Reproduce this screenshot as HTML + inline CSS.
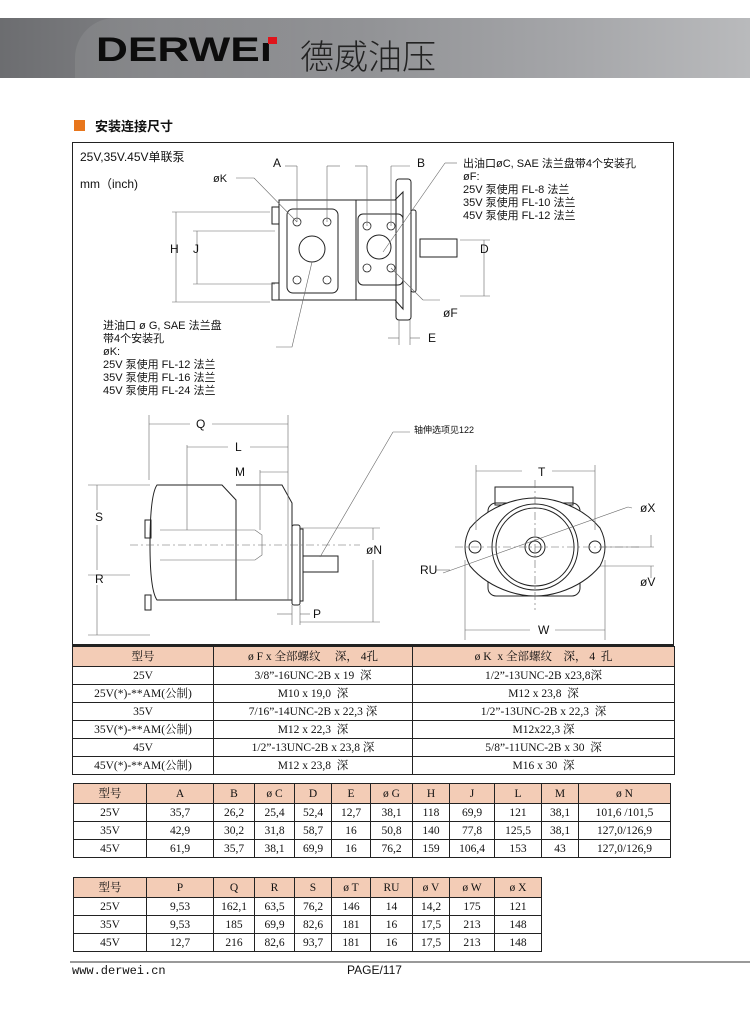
<!DOCTYPE html>
<html><head><meta charset="utf-8">
<style>
*{margin:0;padding:0;box-sizing:border-box}
body{width:750px;height:1018px;background:#fff;position:relative;overflow:hidden;font-family:"Liberation Sans","Noto Sans CJK SC",sans-serif;color:#111}
.abs{position:absolute}
table{border-collapse:collapse;position:absolute;font-family:"Liberation Serif","Noto Serif CJK SC",serif;font-size:11.5px;table-layout:fixed}
td{border:1px solid #222;text-align:center;height:18px;padding:0;white-space:nowrap;overflow:hidden;line-height:16px}
tr.h td{background:#f3ccb6;height:20px}
</style></head><body>
<div class="abs" style="left:0;top:18px;width:750px;height:60px;background:linear-gradient(90deg,#6c6d70 0%,#808184 20%,#8f9093 45%,#a4a5a8 75%,#b9babc 100%)"></div>
<div class="abs" style="left:75px;top:18px;width:300px;height:60px;border-radius:40px 0 0 0;background:linear-gradient(90deg,rgba(255,255,255,0.08),rgba(255,255,255,0))"></div>
<div class="abs" style="left:96px;top:30px;font:bold 34px 'Liberation Sans',sans-serif;color:#0c0c0c;transform:scaleX(1.3);transform-origin:left;line-height:40px">DERWE<span style="color:#0c0c0c">ı</span></div>
<div class="abs" style="left:268px;top:37px;width:9px;height:7px;background:#e0141b"></div>
<div class="abs" style="left:300px;top:30px;font:34px 'Noto Sans CJK SC',sans-serif;color:#222;font-weight:300">德威油压</div>
<div class="abs" style="left:74px;top:120px;width:11px;height:11px;background:#e8761c"></div>
<div class="abs" style="left:95px;top:116px;font:bold 13px 'Noto Sans CJK SC',sans-serif">安装连接尺寸</div>
<div class="abs" style="left:72px;top:142px;width:602px;height:505px;border:1px solid #222;border-bottom:3px solid #222"></div>

<svg class="abs" style="left:0;top:0" width="750" height="1018" viewBox="0 0 750 1018" font-family="Liberation Sans,Noto Sans CJK SC,sans-serif" font-size="11">
<g fill="none" stroke="#222" stroke-width="1">
<path d="M279 200 H395 L403 192 V309 L395 300 H279 Z"/>
<rect x="272" y="207" width="7" height="17"/><rect x="272" y="283" width="7" height="17"/>
<rect x="396" y="179" width="15" height="141" rx="3"/>
<rect x="411" y="210" width="5" height="82" rx="2"/>
<rect x="420" y="239" width="37" height="18"/>
<rect x="287" y="209" width="51" height="84" rx="6"/>
<circle cx="312" cy="249" r="13"/>
<rect x="358" y="214" width="45" height="71" rx="5"/>
<circle cx="379" cy="247" r="12"/>
<line x1="356" y1="200" x2="356" y2="300"/>
<g stroke-width="0.8"><circle cx="297" cy="222" r="4"/><circle cx="327" cy="222" r="4"/><circle cx="297" cy="280" r="4"/><circle cx="327" cy="280" r="4"/>
<circle cx="367" cy="226" r="4"/><circle cx="391" cy="226" r="4"/><circle cx="367" cy="268" r="4"/><circle cx="391" cy="268" r="4"/></g>
<g stroke="#666" stroke-width="0.6">
<line x1="297" y1="166" x2="297" y2="222"/><line x1="327" y1="166" x2="327" y2="222"/>
<line x1="367" y1="166" x2="367" y2="226"/><line x1="391" y1="166" x2="391" y2="226"/>
<line x1="285" y1="166" x2="297" y2="166"/><line x1="327" y1="166" x2="340" y2="166"/>
<line x1="355" y1="166" x2="367" y2="166"/><line x1="391" y1="166" x2="410" y2="166"/>
<line x1="172" y1="212" x2="270" y2="212"/><line x1="172" y1="302" x2="270" y2="302"/>
<line x1="176" y1="212" x2="176" y2="302"/>
<line x1="193" y1="231" x2="275" y2="231"/><line x1="193" y1="284" x2="275" y2="284"/>
<line x1="197" y1="231" x2="197" y2="284"/>
<line x1="460" y1="240" x2="490" y2="240"/><line x1="460" y1="296" x2="490" y2="296"/>
<line x1="484" y1="240" x2="484" y2="296"/>
<line x1="399" y1="320" x2="399" y2="345"/><line x1="410" y1="320" x2="410" y2="345"/>
<line x1="388" y1="338" x2="399" y2="338"/><line x1="410" y1="338" x2="420" y2="338"/>
<line x1="236" y1="178" x2="254" y2="178"/><line x1="254" y1="178" x2="297" y2="222"/>
<line x1="445" y1="163" x2="457" y2="163"/><line x1="445" y1="163" x2="383" y2="252"/>
<line x1="391" y1="268" x2="423" y2="300"/><line x1="423" y1="300" x2="440" y2="300"/>
<path d="M312 262 L292 347 L276 347"/>
</g>
<path d="M157 485 H222 L236 500 V600 H157 Q150 590 150 545 Q150 495 157 485 Z"/>
<path d="M236 500 V600 M236 485 H282 L292 503 V600 H236"/>
<rect x="145" y="520" width="6" height="18"/><rect x="145" y="595" width="6" height="15"/>
<rect x="292" y="525" width="8" height="80" rx="2"/>
<rect x="300" y="529" width="3" height="72"/>
<rect x="303" y="556" width="35" height="16"/>
<g stroke="#666" stroke-width="0.6">
<path d="M160 530 H255 L262 535 V555 L255 560 H160"/>
<line x1="130" y1="545" x2="360" y2="545" stroke-dasharray="8 3 2 3"/>
<line x1="149" y1="415" x2="149" y2="480"/><line x1="288" y1="415" x2="288" y2="600"/>
<line x1="149" y1="424" x2="190" y2="424"/><line x1="212" y1="424" x2="288" y2="424"/>
<line x1="187" y1="447" x2="228" y2="447"/><line x1="250" y1="447" x2="288" y2="447"/>
<line x1="187" y1="445" x2="187" y2="530"/>
<line x1="260" y1="472" x2="288" y2="472"/><line x1="260" y1="470" x2="260" y2="530"/>
<line x1="88" y1="485" x2="150" y2="485"/><line x1="88" y1="575" x2="130" y2="575"/><line x1="88" y1="635" x2="150" y2="635"/>
<line x1="97" y1="485" x2="97" y2="510"/><line x1="97" y1="525" x2="97" y2="570"/><line x1="97" y1="585" x2="97" y2="635"/>
<line x1="300" y1="528" x2="380" y2="528"/><line x1="300" y1="622" x2="380" y2="622"/>
<line x1="373" y1="528" x2="373" y2="540"/><line x1="373" y1="560" x2="373" y2="622"/>
<line x1="292" y1="605" x2="292" y2="625"/><line x1="300" y1="605" x2="300" y2="625"/>
<line x1="277" y1="614" x2="292" y2="614"/><line x1="300" y1="614" x2="310" y2="614"/>
<line x1="320" y1="557" x2="393" y2="432"/><line x1="393" y1="432" x2="410" y2="432"/>
</g>
<rect x="495" y="487" width="78" height="18"/>
<rect x="488" y="503" width="92" height="93" rx="8"/>
<path d="M470 528 Q460 547 470 566 Q485 584 510 592 Q535 600 560 592 Q585 584 600 566 Q610 547 600 528 Q585 510 560 502 Q535 494 510 502 Q485 510 470 528 Z" fill="#fff"/>
<circle cx="535" cy="547" r="43"/><circle cx="535" cy="547" r="39"/>
<circle cx="535" cy="547" r="10"/><circle cx="535" cy="547" r="6"/>
<circle cx="475" cy="547" r="6"/><circle cx="595" cy="547" r="6"/>
<g stroke="#666" stroke-width="0.6">
<line x1="455" y1="547" x2="640" y2="547" stroke-dasharray="8 3 2 3"/>
<line x1="535" y1="480" x2="535" y2="610" stroke-dasharray="8 3 2 3"/>
<line x1="476" y1="465" x2="476" y2="530"/><line x1="595" y1="465" x2="595" y2="530"/>
<line x1="476" y1="471" x2="522" y2="471"/><line x1="552" y1="471" x2="595" y2="471"/>
<line x1="465" y1="560" x2="465" y2="640"/><line x1="605" y1="560" x2="605" y2="640"/>
<line x1="465" y1="630" x2="530" y2="630"/><line x1="555" y1="630" x2="605" y2="630"/>
<line x1="443" y1="573" x2="628" y2="507"/><line x1="628" y1="507" x2="632" y2="508"/>
<line x1="600" y1="547" x2="654" y2="547"/><line x1="600" y1="566" x2="654" y2="566"/>
<line x1="651" y1="535" x2="651" y2="547"/><line x1="651" y1="566" x2="651" y2="578"/>
<line x1="436" y1="570" x2="450" y2="570"/>
</g>
</g>
<g fill="#111" stroke="none">
<text x="80" y="161" font-size="12">25V,35V.45V单联泵</text>
<text x="80" y="188" font-size="12">mm（inch)</text>
<text x="273" y="167" font-size="12">A</text><text x="417" y="167" font-size="12">B</text>
<text x="213" y="182">øK</text>
<text x="463" y="167">出油口øC, SAE 法兰盘带4个安装孔</text>
<text x="463" y="180">øF:</text>
<text x="463" y="193">25V 泵使用 FL-8  法兰</text>
<text x="463" y="206">35V 泵使用  FL-10 法兰</text>
<text x="463" y="219">45V 泵使用  FL-12 法兰</text>
<text x="170" y="253" font-size="12">H</text><text x="193" y="253" font-size="12">J</text><text x="480" y="253" font-size="12">D</text>
<text x="443" y="317" font-size="12">øF</text><text x="428" y="342" font-size="12">E</text>
<text x="103" y="329">进油口 ø G, SAE 法兰盘</text>
<text x="103" y="342">带4个安装孔</text>
<text x="103" y="355">øK:</text>
<text x="103" y="368">25V 泵使用  FL-12 法兰</text>
<text x="103" y="381">35V 泵使用  FL-16 法兰</text>
<text x="103" y="394">45V 泵使用  FL-24 法兰</text>
<text x="196" y="428" font-size="12">Q</text><text x="235" y="451" font-size="12">L</text><text x="235" y="476" font-size="12">M</text>
<text x="414" y="433" font-size="9">轴伸选项见122</text>
<text x="95" y="521" font-size="12">S</text><text x="95" y="583" font-size="12">R</text>
<text x="366" y="554" font-size="12">øN</text><text x="313" y="618" font-size="12">P</text>
<text x="538" y="476" font-size="12">T</text><text x="640" y="512" font-size="12">øX</text>
<text x="420" y="574" font-size="12">RU</text><text x="640" y="586" font-size="12">øV</text>
<text x="538" y="634" font-size="12">W</text>
</g>
</svg>

<table style="left:72px;top:646px;width:602px">
<colgroup><col style="width:141px"><col style="width:199px"><col style="width:262px"></colgroup>
<tr class="h"><td>型号</td><td>ø F x 全部螺纹&nbsp;&nbsp;&nbsp;&nbsp;&nbsp;深，&nbsp;4孔</td><td>ø K&nbsp; x 全部螺纹&nbsp;&nbsp;&nbsp;&nbsp;深，&nbsp;4&nbsp; 孔</td></tr>
<tr><td>25V</td><td>3/8”-16UNC-2B x 19&nbsp; 深</td><td>1/2”-13UNC-2B x23,8深</td></tr>
<tr><td>25V(*)-**AM(公制)</td><td>M10 x 19,0&nbsp; 深</td><td>M12 x 23,8&nbsp; 深</td></tr>
<tr><td>35V</td><td>7/16”-14UNC-2B x 22,3 深</td><td>1/2”-13UNC-2B x 22,3&nbsp; 深</td></tr>
<tr><td>35V(*)-**AM(公制)</td><td>M12 x 22,3&nbsp; 深</td><td>M12x22,3 深</td></tr>
<tr><td>45V</td><td>1/2”-13UNC-2B x 23,8 深</td><td>5/8”-11UNC-2B x 30&nbsp; 深</td></tr>
<tr><td>45V(*)-**AM(公制)</td><td>M12 x 23,8&nbsp; 深</td><td>M16 x 30&nbsp; 深</td></tr>
</table>

<table style="left:73px;top:783px;width:597px">
<colgroup><col style="width:73px"><col style="width:67px"><col style="width:41px"><col style="width:40px"><col style="width:37px"><col style="width:39px"><col style="width:42px"><col style="width:37px"><col style="width:45px"><col style="width:47px"><col style="width:37px"><col style="width:92px"></colgroup>
<tr class="h"><td>型号</td><td>A</td><td>B</td><td>ø C</td><td>D</td><td>E</td><td>ø G</td><td>H</td><td>J</td><td>L</td><td>M</td><td>ø N</td></tr>
<tr><td>25V</td><td>35,7</td><td>26,2</td><td>25,4</td><td>52,4</td><td>12,7</td><td>38,1</td><td>118</td><td>69,9</td><td>121</td><td>38,1</td><td>101,6 /101,5</td></tr>
<tr><td>35V</td><td>42,9</td><td>30,2</td><td>31,8</td><td>58,7</td><td>16</td><td>50,8</td><td>140</td><td>77,8</td><td>125,5</td><td>38,1</td><td>127,0/126,9</td></tr>
<tr><td>45V</td><td>61,9</td><td>35,7</td><td>38,1</td><td>69,9</td><td>16</td><td>76,2</td><td>159</td><td>106,4</td><td>153</td><td>43</td><td>127,0/126,9</td></tr>
</table>

<table style="left:73px;top:877px;width:468px">
<colgroup><col style="width:73px"><col style="width:67px"><col style="width:41px"><col style="width:40px"><col style="width:37px"><col style="width:39px"><col style="width:42px"><col style="width:37px"><col style="width:45px"><col style="width:47px"></colgroup>
<tr class="h"><td>型号</td><td>P</td><td>Q</td><td>R</td><td>S</td><td>ø T</td><td>RU</td><td>ø V</td><td>ø W</td><td>ø X</td></tr>
<tr><td>25V</td><td>9,53</td><td>162,1</td><td>63,5</td><td>76,2</td><td>146</td><td>14</td><td>14,2</td><td>175</td><td>121</td></tr>
<tr><td>35V</td><td>9,53</td><td>185</td><td>69,9</td><td>82,6</td><td>181</td><td>16</td><td>17,5</td><td>213</td><td>148</td></tr>
<tr><td>45V</td><td>12,7</td><td>216</td><td>82,6</td><td>93,7</td><td>181</td><td>16</td><td>17,5</td><td>213</td><td>148</td></tr>
</table>

<div class="abs" style="left:70px;top:961px;width:680px;height:2px;background:#999"></div>
<div class="abs" style="left:72px;top:964px;font:12px 'Liberation Mono',monospace">www.derwei.cn</div>
<div class="abs" style="left:347px;top:963px;font:12px 'Liberation Sans',sans-serif">PAGE/117</div>
</body></html>
